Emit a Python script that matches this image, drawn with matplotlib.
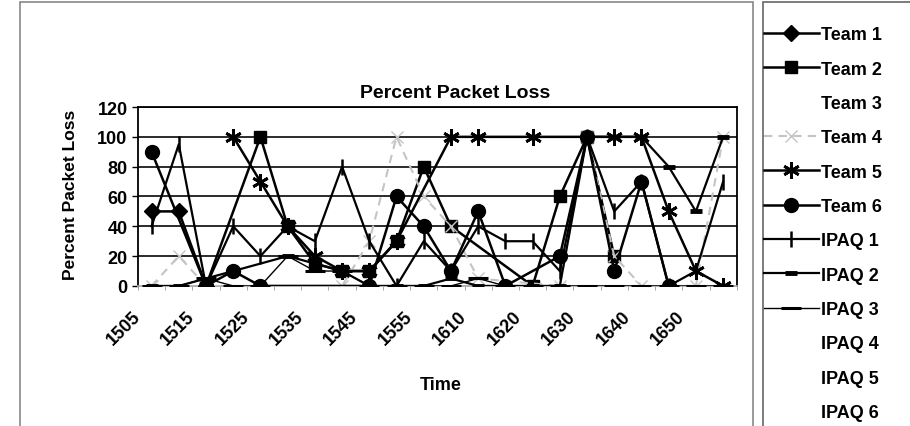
import matplotlib
matplotlib.use('Agg')
import matplotlib.pyplot as plt
from matplotlib.patches import Rectangle
from matplotlib.transforms import ScaledTranslation
import numpy as np

plt.rcParams['font.family'] = ['Liberation Sans', 'DejaVu Sans']
plt.rcParams['font.weight'] = 'bold'

nan = np.nan
times = ['1505', '1510', '1515', '1520', '1525', '1530', '1535', '1540', '1545', '1550', '1555',
         '1605', '1610', '1615', '1620', '1625', '1630', '1635', '1640', '1645', '1650', '1655']

# empty cells are left as nan (Excel joins across them)
team1 = [50, 50, 0, nan, nan, nan, nan, nan, nan, nan, nan, nan, nan, nan, nan, nan, nan, nan, nan, nan, nan, nan]
team2 = [nan, nan, 0, nan, 100, 40, 15, 10, 10, 30, 80, 40, nan, nan, 0, 60, 100, 20, nan, nan, nan, nan]
team3 = [nan] * 22
team4 = [0, 20, 0, nan, nan, nan, nan, 0, 30, 100, 60, 40, 5, nan, nan, 0, 100, 20, 0, nan, 0, 100]
team5 = [nan, nan, nan, 100, 70, 40, 20, 10, 10, 30, nan, 100, 100, nan, 100, nan, nan, 100, 100, 50, 10, 0]
team6 = [90, nan, 0, 10, 0, nan, nan, nan, 0, 60, 40, 10, 50, 0, nan, 20, 100, 10, 70, 0, nan, nan]
ipaq1 = [40, 95, 0, 40, 20, 40, 30, 80, 30, 0, 30, 10, 40, 30, 30, 10, 100, 50, 70, 0, 10, 70]
ipaq2 = [0, 0, nan, nan, nan, 20, 15, 10, 0, 0, 0, 5, 0, 0, 0, 0, 100, 100, 100, 80, 50, 100]
ipaq3 = [0, 0, 5, 0, 0, 20, 10, 10, 0, 0, 0, 0, 5, 0, 0, 0, 0, 0, 0, 0, 0, 0]
ipaq4 = [nan] * 22
ipaq5 = [nan] * 22
ipaq6 = [nan] * 22

fig = plt.figure(figsize=(9.10, 4.27), dpi=100)
ax = fig.add_axes([0.1516, 0.328, 0.658, 0.419])

x = np.arange(len(times))
styles = [
    ('Team 1', team1, dict(color='black', marker='D', ms=8, lw=1.8)),
    ('Team 2', team2, dict(color='black', marker='s', ms=9, lw=1.8)),
    ('Team 3', team3, dict(color='white', marker='^', ms=8, lw=1.8, alpha=0)),
    ('Team 4', team4, dict(color='#c4c4c4', marker='x', ms=9, lw=1.5, ls=(0, (4, 3)))),
    ('Team 5', team5, dict(color='black', marker=(6, 2, 0), ms=12, mew=2, lw=1.8)),
    ('Team 6', team6, dict(color='black', marker='o', ms=10, lw=1.8)),
    ('IPAQ 1', ipaq1, dict(color='black', marker='|', ms=12, mew=1.8, lw=1.6)),
    ('IPAQ 2', ipaq2, dict(color='black', marker='_', ms=9, mew=3.5, lw=1.6)),
    ('IPAQ 3', ipaq3, dict(color='black', marker='_', ms=14, mew=2.2, lw=1.0)),
    ('IPAQ 4', ipaq4, dict(color='white', lw=1.0, alpha=0)),
    ('IPAQ 5', ipaq5, dict(color='white', lw=1.0, alpha=0)),
    ('IPAQ 6', ipaq6, dict(color='white', lw=1.0, alpha=0)),
]
handles = []
for name, vals, kw in styles:
    vals = np.array(vals, dtype=float)
    ok = ~np.isnan(vals)
    h, = ax.plot(x[ok], vals[ok], label=name, zorder=3, **kw)
    handles.append(h)

ax.set_xlim(-0.5, len(times) - 0.5)
ax.set_ylim(0, 120)
ax.set_yticks(range(0, 121, 20))
ax.tick_params(axis='y', labelsize=13, length=4, direction='out', width=1)
ax.set_xticks(x[::2])
ax.set_xticklabels(times[::2], rotation=45, ha='right', va='center', rotation_mode='anchor', fontsize=13)
ax.set_xticks(np.arange(-0.5, len(times), 1), minor=True)
ax.tick_params(axis='x', which='major', length=0, pad=20)
ax.tick_params(axis='x', which='minor', length=3, color='#999999')
shift = ScaledTranslation(-10 / 72, 0, fig.dpi_scale_trans)
for lab in ax.get_xticklabels():
    lab.set_transform(lab.get_transform() + shift)
for y in range(20, 121, 20):
    ax.axhline(y, color='#1a1a1a', lw=1.3, zorder=1)
for s in ax.spines.values():
    s.set_color('black')
    s.set_linewidth(1.3)
ax.spines['bottom'].set_color('#aaaaaa')

fig.text(0.5, 0.782, 'Percent Packet Loss', ha='center', va='center', fontsize=14, fontweight='bold')
fig.text(0.077, 0.543, 'Percent Packet Loss', ha='center', va='center', rotation=90, fontsize=12.5, fontweight='bold')
fig.text(0.484, 0.098, 'Time', ha='center', va='center', fontsize=13, fontweight='bold')

# chart area frame and legend frame
fig.patches.append(Rectangle((0.022, -0.05), 0.805, 1.043, transform=fig.transFigure,
                             fill=False, edgecolor='#888888', lw=1.2))
fig.patches.append(Rectangle((0.838, -0.05), 0.2, 1.043, transform=fig.transFigure,
                             fill=False, edgecolor='#666666', lw=1.2))

leg = fig.legend(handles=handles, loc='upper left', bbox_to_anchor=(0.840, 0.936),
                 fontsize=13, frameon=False,
                 handlelength=3.0, handletextpad=0.15, labelspacing=0.96,
                 borderaxespad=0, borderpad=0)

fig.savefig('out.png', dpi=100)
